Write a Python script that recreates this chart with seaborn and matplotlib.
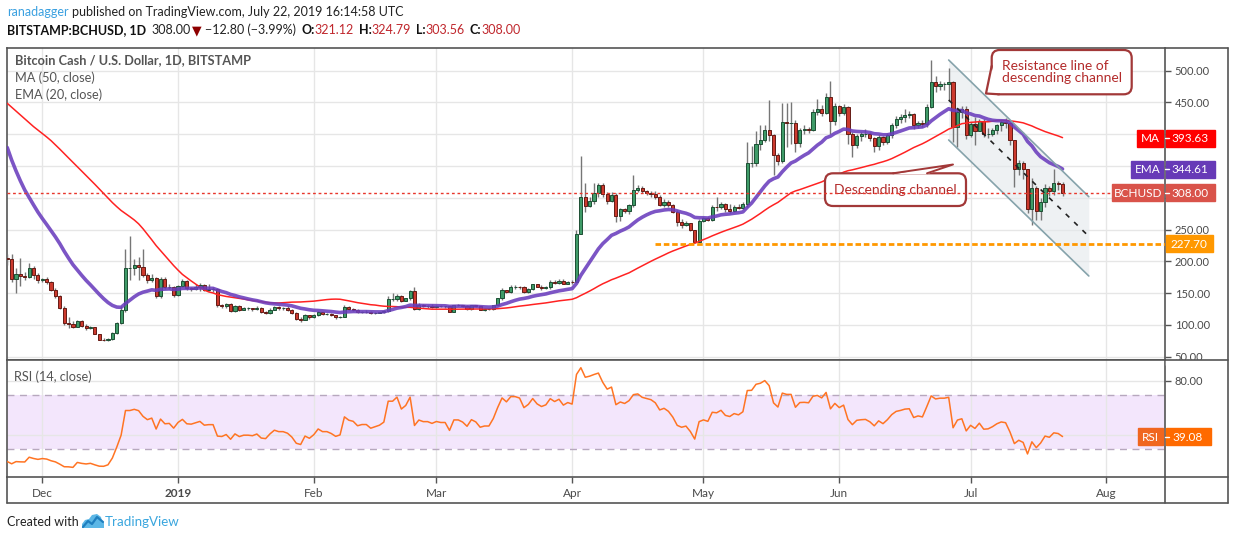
import matplotlib
matplotlib.use("Agg")
import matplotlib.pyplot as plt
import matplotlib.dates as mdates
from matplotlib.patches import FancyBboxPatch, Polygon, Rectangle
from matplotlib.lines import Line2D
from matplotlib.transforms import Affine2D
import numpy as np
import pandas as pd
import seaborn as sns

# BITSTAMP:BCHUSD daily candles 2018-11-23 .. 2019-07-22
first_open = 205.0

nov_close = [203, 173, 180, 177, 176, 189, 178, 170]
nov_high = [212, 212, 190, 205, 183, 197, 192, 182]
nov_low = [195, 168, 150, 162, 170, 174, 172, 166]

dec_close = [172, 168, 155, 146, 127, 103, 102, 97, 106, 99,
             95, 96, 86, 77, 76, 78, 87, 103, 124, 190,
             190, 194, 191, 178, 170, 174, 146, 172, 159, 160, 147]
dec_high = [174, 176, 169, 158, 147, 129, 113, 106, 108, 107,
            101, 98, 96, 86, 79, 80, 89, 104, 130, 219,
            240, 203, 207, 219, 182, 180, 176, 175, 175, 164, 162]
dec_low = [167, 165, 153, 143, 125, 100, 95, 95, 96, 97,
           92, 93, 85, 76, 74, 75, 77, 85, 101, 121,
           170, 178, 171, 176, 166, 168, 143, 143, 157, 156, 144]

jan_close = [161, 169, 158, 157, 160, 163, 155, 156, 156, 131,
             130, 133, 122, 130, 124, 126, 126, 125, 127, 120,
             119, 124, 128, 126, 126, 124, 119, 110, 108, 115, 112]
jan_high = [163, 172, 171, 159, 165, 166, 164, 165, 160, 158,
            133, 135, 134, 132, 132, 128, 128, 127, 129, 128,
            122, 126, 130, 130, 128, 129, 125, 120, 112, 117, 116]
jan_low = [146, 159, 155, 153, 155, 154, 153, 153, 152, 128,
           127, 126, 120, 121, 122, 123, 123, 122, 124, 118,
           117, 117, 123, 124, 124, 122, 117, 107, 105, 107, 110]

feb_close = [115, 120, 117, 117, 115, 112, 113, 128, 125, 124,
             120, 121, 121, 118, 119, 120, 122, 141, 141, 146,
             138, 142, 153, 125, 132, 130, 130, 128]
feb_high = [117, 122, 121, 119, 118, 116, 114, 131, 129, 126,
            125, 122, 123, 122, 121, 121, 124, 146, 151, 148,
            147, 143, 155, 159, 134, 133, 132, 133]
feb_low = [111, 114, 115, 115, 114, 110, 111, 112, 123, 122,
           119, 118, 119, 117, 117, 118, 119, 121, 137, 138,
           136, 137, 140, 123, 124, 128, 126, 127]

mar_close = [130, 129, 129, 121, 131, 131, 129, 125, 131, 129,
             124, 125, 125, 131, 142, 155, 152, 160, 160, 159,
             152, 156, 164, 160, 158, 160, 168, 166, 169, 165, 168]
mar_high = [131, 131, 130, 130, 132, 133, 132, 131, 132, 132,
            130, 127, 126, 132, 143, 158, 155, 163, 163, 162,
            161, 158, 165, 165, 163, 161, 170, 170, 172, 172, 169]
mar_low = [127, 128, 126, 120, 120, 129, 128, 124, 124, 128,
           123, 122, 123, 124, 130, 140, 150, 151, 157, 157,
           150, 151, 155, 159, 155, 157, 157, 165, 165, 164, 164]

apr_close = [167, 243, 301, 287, 295, 308, 320, 306, 295, 305,
             272, 282, 279, 289, 313, 316, 310, 308, 306, 301,
             289, 293, 288, 278, 262, 258, 260, 249, 231, 264]
apr_high = [170, 249, 365, 323, 301, 323, 324, 324, 309, 309,
            307, 284, 284, 291, 336, 320, 318, 312, 310, 311,
            305, 298, 296, 290, 281, 266, 264, 261, 250, 266]
apr_low = [165, 166, 243, 278, 285, 290, 302, 302, 290, 294,
           262, 264, 276, 275, 286, 309, 307, 305, 302, 298,
           287, 286, 285, 276, 255, 253, 256, 247, 229, 231]

may_close = [268, 265, 286, 285, 291, 282, 280, 286, 284, 290,
             354, 355, 385, 391, 407, 399, 367, 358, 420, 417,
             417, 387, 407, 408, 407, 435, 439, 434, 459, 421, 444]
may_high = [270, 270, 289, 301, 294, 292, 290, 288, 290, 293,
            388, 381, 405, 414, 414, 454, 400, 371, 449, 449,
            450, 422, 410, 415, 412, 440, 455, 446, 465, 484, 449]
may_low = [262, 263, 264, 280, 283, 278, 276, 278, 282, 282,
           286, 349, 350, 375, 388, 390, 336, 352, 355, 380,
           385, 372, 380, 400, 402, 405, 430, 428, 432, 400, 414]

jun_close = [433, 443, 401, 383, 398, 400, 401, 394, 382, 396,
             388, 399, 414, 424, 427, 431, 432, 414, 418, 416,
             443, 482, 476, 479, 479, 482, 412, 435, 439, 399]
jun_high = [446, 447, 445, 403, 401, 404, 408, 403, 396, 399,
            398, 402, 418, 428, 432, 440, 437, 434, 421, 422,
            447, 517, 492, 484, 482, 505, 484, 442, 445, 445]
jun_low = [428, 430, 385, 364, 378, 390, 396, 390, 372, 376,
           383, 384, 394, 410, 418, 420, 425, 408, 410, 411,
           412, 441, 466, 470, 470, 452, 388, 380, 425, 392]

jul_close = [416, 405, 421, 400, 401, 407, 415, 420, 418, 391,
             346, 354, 345, 282, 315, 280, 294, 316, 310, 324,
             321.12, 308.00]
jul_high = [420, 427, 424, 424, 410, 410, 416, 422, 425, 420,
            390, 360, 358, 346, 331, 318, 300, 322, 319, 345,
            327, 324.79]
jul_low = [395, 383, 405, 395, 394, 398, 400, 405, 410, 383,
           317, 336, 330, 276, 258, 265, 265, 285, 303, 305,
           313, 303.56]

# closes before the visible window (2018-10-04 .. 2018-11-22), only used to seed MA / EMA / RSI
warmup_close = [485, 480, 480, 485, 495, 485, 480, 440, 445, 440,
                445, 475, 465, 455, 445, 445, 445, 445, 440, 435,
                440, 435, 440, 440, 440, 425, 425, 430,
                440, 450, 495, 565, 600, 615, 600, 565, 540, 555,
                550, 520, 505, 420, 410, 400, 395, 400, 300, 240,
                260, 205]

# values printed on the chart
ma_last = 393.63
ema_last = 344.61
last_close = 308.00
rsi_last = 39.08
support_level = 227.70
support_from = "2019-04-20"

# descending channel drawn on the chart
channel_dates = ["2019-06-26", "2019-07-28"]
channel_upper = [516.8, 301.7]
channel_lower = [391.0, 177.0]

price_ticks = [50, 100, 150, 200, 250, 300, 350, 400, 450, 500]
rsi_ticks = [40, 80]
month_starts = ["2018-12-01", "2019-01-01", "2019-02-01", "2019-03-01", "2019-04-01",
                "2019-05-01", "2019-06-01", "2019-07-01", "2019-08-01"]
month_labels = ["Dec", "2019", "Feb", "Mar", "Apr", "May", "Jun", "Jul", "Aug"]

closes = np.array(nov_close + dec_close + jan_close + feb_close + mar_close
                  + apr_close + may_close + jun_close + jul_close, dtype=float)
highs = np.array(nov_high + dec_high + jan_high + feb_high + mar_high
                 + apr_high + may_high + jun_high + jul_high, dtype=float)
lows = np.array(nov_low + dec_low + jan_low + feb_low + mar_low
                + apr_low + may_low + jun_low + jul_low, dtype=float)
opens = np.r_[first_open, closes[:-1]]
dates = pd.date_range("2018-11-23", "2019-07-22", freq="D")
x = mdates.date2num(dates)

# indicators
full = pd.Series(warmup_close + list(closes), dtype=float)
n0 = len(warmup_close)
ma50 = full.rolling(50).mean().to_numpy()[n0:]
ema20 = full.ewm(span=20, adjust=False).mean().to_numpy()[n0:]
delta = full.diff().fillna(0)
up_avg = delta.clip(lower=0).ewm(alpha=1 / 14, adjust=False).mean()
dn_avg = (-delta.clip(upper=0)).ewm(alpha=1 / 14, adjust=False).mean()
rsi = (100 - 100 / (1 + up_avg / dn_avg)).to_numpy()[n0:]

# ---- figure ----
sns.set_theme(style="white")
plt.rcParams["font.family"] = ["Lato", "DejaVu Sans"]

W, H = 1234, 540
fig = plt.figure(figsize=(W / 100, H / 100), dpi=100)
fig.patch.set_facecolor("white")
pix = Affine2D().scale(1, -1).translate(0, H)  # reference pixel coords -> display


def rect(x0, y0, x1, y1):
    return [x0 / W, 1 - y1 / H, (x1 - x0) / W, (y1 - y0) / H]


ax = fig.add_axes(rect(7, 48, 1165, 359.5))
axr = fig.add_axes(rect(7, 359.5, 1165, 477))

dec1 = mdates.date2num(pd.Timestamp("2018-12-01"))
xlim = (dec1 - 8.06, dec1 + 256.4)
month_x = mdates.date2num(pd.to_datetime(month_starts))
grid_c = "#e6e6e6"
frame_c = "#555555"

# candles
up = closes >= opens
body_lo = np.minimum(opens, closes)
body_h = np.abs(closes - opens)
ax.vlines(x, lows, highs, color="#767676", lw=1, zorder=3)
ax.bar(x[up], body_h[up], bottom=body_lo[up], width=0.72, color="#3f9b68",
       edgecolor="#1d4f34", linewidth=0.7, zorder=3.2)
ax.bar(x[~up], body_h[~up], bottom=body_lo[~up], width=0.72, color="#cc3a2e",
       edgecolor="#651b15", linewidth=0.7, zorder=3.2)

sns.lineplot(x=x, y=ma50, ax=ax, color="#ff2222", lw=1.1, zorder=4)
sns.lineplot(x=x, y=ema20, ax=ax, color="#6a3dbd", lw=2.6, alpha=0.88, zorder=4.1)

# descending channel
cx = mdates.date2num(pd.to_datetime(channel_dates))
cmid = [(u + l) / 2 for u, l in zip(channel_upper, channel_lower)]
ax.fill_between(cx, channel_upper, channel_lower, color="#e4e8ec", alpha=0.6, lw=0, zorder=1.5)
ax.plot(cx, channel_upper, color="#86a3ab", lw=1.2, zorder=4.5)
ax.plot(cx, channel_lower, color="#86a3ab", lw=1.2, zorder=4.5)
ax.plot(cx, cmid, color="#222222", lw=1.2, ls=(0, (3, 4)), zorder=4.5)

# support and last price lines
sx = mdates.date2num(pd.Timestamp(support_from))
ax.hlines(support_level, sx, xlim[1], colors="#ff9800", lw=2, linestyles=(0, (2, 1)), zorder=4.6)
ax.axhline(last_close, color="#e8372c", lw=1, ls=(0, (2, 2)), zorder=8)

# RSI panel
axr.axhspan(30, 70, color="#f3e6fc", lw=0, zorder=0.5)
axr.axhline(70, color="#b7a8be", lw=1, ls=(0, (5, 4)), zorder=1)
axr.axhline(30, color="#b7a8be", lw=1, ls=(0, (5, 4)), zorder=1)
sns.lineplot(x=x, y=rsi, ax=axr, color="#ff7423", lw=1.1, zorder=3)

# axes cosmetics
ax.set_xlim(*xlim)
axr.set_xlim(*xlim)
ax.set_ylim(45.6, 535.7)
axr.set_ylim(9.4, 95.8)
for a in (ax, axr):
    a.set_xticks(month_x)
    a.grid(True, color=grid_c, lw=1)
    a.set_axisbelow(True)
    a.set_xlabel("")
    a.set_ylabel("")
    a.yaxis.tick_right()
    a.tick_params(axis="y", which="both", left=False, right=True, labelleft=False,
                  labelright=True, direction="out", length=4, width=1, color=frame_c,
                  labelsize=8, labelcolor="#4a4a4a", pad=3)
    for s in a.spines.values():
        s.set_color(frame_c)
        s.set_linewidth(1.2)


def ref_y(a, v):
    return H - a.transData.transform((0, v))[1]


# price labels that sit under a value tag are not visible on the chart
tag_y = [ref_y(ax, v) for v in (ma_last, ema_last, last_close, support_level)]
ax.set_yticks(price_ticks)
ax.set_yticklabels(["" if min(abs(ref_y(ax, v) - t) for t in tag_y) < 9 else f"{v:.2f}"
                    for v in price_ticks])
ax.tick_params(axis="x", bottom=False, labelbottom=False)
rsi_tag_y = ref_y(axr, rsi_last)
axr.set_yticks(rsi_ticks)
axr.set_yticklabels(["" if abs(ref_y(axr, v) - rsi_tag_y) < 9 else f"{v:.2f}" for v in rsi_ticks])
axr.set_xticklabels(month_labels)
axr.tick_params(axis="x", bottom=True, direction="out", length=4, width=1, color=frame_c,
                labelsize=8.5, labelcolor="#4a4a4a", pad=4)
for lbl in axr.get_xticklabels():
    if lbl.get_text() == "2019":
        lbl.set_fontweight("bold")

# callout boxes (pixel positions from the picture)
ann_edge = "#a23838"
ann_text = "#b32b2b"
b1 = FancyBboxPatch((991.7, 50), 140, 44.3, boxstyle="round,pad=0,rounding_size=8",
                    transform=pix, facecolor="white", edgecolor=ann_edge, lw=1.6, zorder=6)
ax.add_artist(b1)
ax.add_artist(Polygon([(991.7, 66), (986, 93.5), (999, 93.4)], closed=True, transform=pix,
                      facecolor="white", edgecolor="none", zorder=6.1))
ax.add_artist(Line2D([991.7, 986, 999], [66, 93.5, 94.3], transform=pix, color=ann_edge, lw=1.6, zorder=6.2))
ax.text(1061.7, 72.5, "Resistance line of\ndescending channel", transform=pix, ha="center", va="center",
        multialignment="left", fontsize=10, color=ann_text, linespacing=1.0, zorder=6.3)

b2 = FancyBboxPatch((825, 173.3), 141, 32.7, boxstyle="round,pad=0,rounding_size=8",
                    transform=pix, facecolor="white", edgecolor=ann_edge, lw=1.6, zorder=6)
ax.add_artist(b2)
ax.add_artist(Polygon([(893, 174.3), (953, 164.5), (927, 174.3)], closed=True, transform=pix,
                      facecolor="white", edgecolor="none", zorder=6.1))
ax.add_artist(Line2D([893, 953, 927], [173.3, 164.5, 173.3], transform=pix, color=ann_edge, lw=1.4, zorder=6.2))
ax.text(895.5, 190, "Descending channel", transform=pix, ha="center", va="center",
        fontsize=10, color=ann_text, zorder=6.3)

# text on the chart
renderer = fig.canvas.get_renderer()


def run(pieces, x0, y0, size):
    for s, color, weight, gap in pieces:
        t = fig.text(x0, y0, s, transform=pix, color=color, fontsize=size,
                     fontweight=weight, ha="left", va="center")
        x0 += t.get_window_extent(renderer).width + gap


red = "#c0272d"
run([("ranadagger", "#3aa0e0", "normal", 3),
     ("published on TradingView.com, July 22, 2019 16:14:58 UTC", "#222222", "normal", 0)], 7, 12, 9.0)
run([("BITSTAMP:BCHUSD, 1D", "#111111", "bold", 5),
     ("308.00", "#222222", "normal", 2), ("\u25bc", "#8e0000", "normal", 3),
     ("\u221212.80 (\u22123.99%)", "#222222", "normal", 5),
     ("O:", "#111111", "bold", 0), ("321.12", red, "normal", 5),
     ("H:", "#111111", "bold", 0), ("324.79", red, "normal", 5),
     ("L:", "#111111", "bold", 0), ("303.56", red, "normal", 5),
     ("C:", "#111111", "bold", 0), ("308.00", red, "normal", 0)], 7, 30, 9.0)

legend_c = "#555555"
fig.text(15, 60, "Bitcoin Cash / U.S. Dollar, 1D, BITSTAMP", transform=pix, color=legend_c,
         fontsize=9.2, fontweight="bold", va="center")
fig.text(15, 77.7, "MA (50, close)", transform=pix, color=legend_c, fontsize=9.2, va="center")
fig.text(15, 95, "EMA (20, close)", transform=pix, color=legend_c, fontsize=9.2, va="center")
fig.text(14, 377, "RSI (14, close)", transform=pix, color=legend_c, fontsize=9.2, va="center")

# frame pieces outside the two axes
fig.add_artist(Rectangle((1166, 360.3), 61, 5, transform=pix, color="white", zorder=4))
for (xa, ya), (xb, yb) in [((1165, 48), (1228, 48)), ((1228, 48), (1228, 503)),
                           ((7, 503), (1228, 503)), ((7, 477), (7, 503)),
                           ((1165, 477), (1165, 503)), ((1165, 359.5), (1228, 359.5)),
                           ((1165, 477), (1228, 477))]:
    fig.add_artist(Line2D([xa, xb], [ya, yb], transform=pix, color=frame_c, lw=1.2, zorder=5))


# right-hand value tags
def tag(yc, text, color, x0, x1):
    fig.add_artist(Rectangle((x0, yc - 8.5), x1 - x0, 17, transform=pix, color=color, zorder=6))
    fig.text((x0 + x1) / 2, yc + 0.5, text, transform=pix, color="white", fontsize=8.5,
             ha="center", va="center", zorder=7)


for v, name, col, w in [(ma_last, "MA", "#ff0000", 26), (ema_last, "EMA", "#673ab7", 32),
                        (last_close, "BCHUSD", "#d9534a", 51)]:
    yc = ref_y(ax, v)
    tag(yc, name, col, 1163.3 - w, 1163.3)
    tag(yc, f"{v:.2f}", col, 1165.5, 1215)
    fig.add_artist(Line2D([1165, 1169], [yc, yc], transform=pix, color="white", lw=1, zorder=7))
yc = ref_y(ax, support_level)
tag(yc, f"{support_level:.2f}", "#ff9800", 1165.5, 1213)
tag(rsi_tag_y, "RSI", "#f0661f", 1137.5, 1163.3)
tag(rsi_tag_y, f"{rsi_last:.2f}", "#ff6a00", 1165.5, 1210.5)
fig.add_artist(Line2D([1165, 1169], [rsi_tag_y, rsi_tag_y], transform=pix, color="white", lw=1, zorder=7))

# footer
fig.text(7, 522, "Created with", transform=pix, color="#222222", fontsize=9.0, va="center")
fig.add_artist(Polygon([(82, 528), (82, 524), (85, 520), (89, 519), (92, 515), (97, 514),
                        (101, 517), (102, 521), (104, 523), (104, 528)], closed=True,
                       transform=pix, facecolor="#5cb7e6", edgecolor="none", zorder=5))
fig.add_artist(Line2D([83, 88, 92, 97, 103], [527, 521, 524, 517, 522], transform=pix,
                      color="#1f7fbf", lw=1.6, zorder=6))
fig.text(105, 522, "TradingView", transform=pix, color="#3aa6de", fontsize=9.6, va="center")

fig.savefig("out.png", dpi=100, facecolor="white")
